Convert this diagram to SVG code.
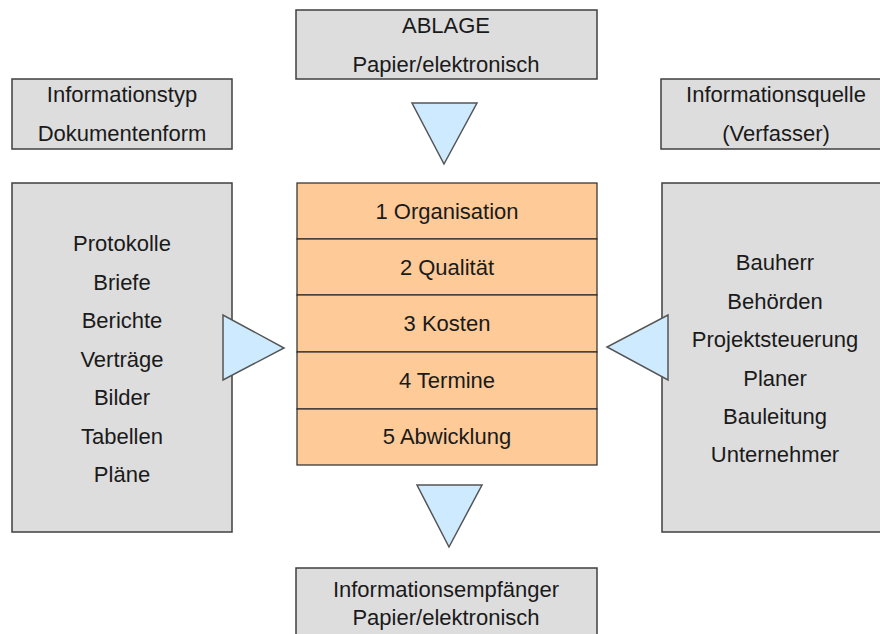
<svg xmlns="http://www.w3.org/2000/svg" width="880" height="634" viewBox="0 0 880 634">
<style>
.box{fill:#dddddd;stroke:#3f3f3f;stroke-width:1.5}
.cat{fill:#fdca98;stroke:#2a2a2a;stroke-width:1.2}
.tri{fill:#cdeaff;stroke:#555555;stroke-width:1.5;stroke-linejoin:miter}
text{font-family:"Liberation Sans",Arial,sans-serif;font-size:22px;fill:#1a1a1a;text-anchor:middle}
</style>
<rect width="880" height="634" fill="#ffffff"/>
<g id="ablage">
<rect class="box" x="296" y="10" width="301" height="69"/>
<text x="446" y="33">ABLAGE</text>
<text x="446" y="72">Papier/elektronisch</text>
</g>
<g id="informationstyp">
<rect class="box" x="12" y="79" width="220" height="70"/>
<text x="122" y="102">Informationstyp</text>
<text x="122" y="141">Dokumentenform</text>
</g>
<g id="informationsquelle">
<rect class="box" x="661" y="79" width="230" height="70"/>
<text x="776" y="102">Informationsquelle</text>
<text x="776" y="141">(Verfasser)</text>
</g>
<g id="dokumente">
<rect class="box" x="12" y="183" width="220" height="349"/>
<text x="122" y="251">Protokolle</text>
<text x="122" y="290">Briefe</text>
<text x="122" y="328">Berichte</text>
<text x="122" y="367">Verträge</text>
<text x="122" y="405">Bilder</text>
<text x="122" y="444">Tabellen</text>
<text x="122" y="482">Pläne</text>
</g>
<g id="verfasser">
<rect class="box" x="662" y="183" width="230" height="349"/>
<text x="775" y="270">Bauherr</text>
<text x="775" y="309">Behörden</text>
<text x="775" y="347">Projektsteuerung</text>
<text x="775" y="386">Planer</text>
<text x="775" y="424">Bauleitung</text>
<text x="775" y="462">Unternehmer</text>
</g>
<g id="kategorien">
<rect class="cat" x="297" y="183" width="300" height="56"/>
<rect class="cat" x="297" y="239" width="300" height="56"/>
<rect class="cat" x="297" y="295" width="300" height="57"/>
<rect class="cat" x="297" y="352" width="300" height="57"/>
<rect class="cat" x="297" y="409" width="300" height="56"/>
<text x="447" y="219">1 Organisation</text>
<text x="447" y="275">2 Qualität</text>
<text x="447" y="331">3 Kosten</text>
<text x="447" y="388">4 Termine</text>
<text x="447" y="444">5 Abwicklung</text>
</g>
<g id="empfaenger">
<rect class="box" x="296" y="568" width="301" height="80"/>
<text x="446" y="597">Informationsempfänger</text>
<text x="446" y="625">Papier/elektronisch</text>
</g>
<g id="connectors">
<polygon class="tri" points="412,103 477,103 444,164"/>
<polygon class="tri" points="223,315 223,380 284,348"/>
<polygon class="tri" points="668,315 668,380 607,347"/>
<polygon class="tri" points="417,485 482,485 449,547"/>
</g>
</svg>
